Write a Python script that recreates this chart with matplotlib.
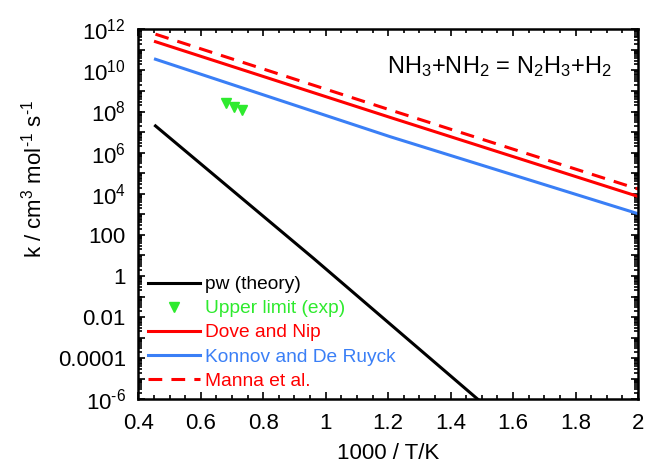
import numpy as np
import matplotlib
matplotlib.use("Agg")
import matplotlib.pyplot as plt
from matplotlib.ticker import FixedLocator, FixedFormatter, LogLocator, MultipleLocator, NullFormatter

plt.rcParams["font.family"] = ["Liberation Sans", "DejaVu Sans"]
plt.rcParams["mathtext.fontset"] = "custom"
plt.rcParams["mathtext.rm"] = "Liberation Sans"

# rate constants vs 1000/T
pw_x = [0.455, 0.961, 1.50]
pw_k = [2.0e7, 7.2, 6.8e-7]

exp_x = [0.682, 0.707, 0.733]
exp_k = [2.6e8, 1.7e8, 1.15e8]

dove_x = [0.455, 1.206, 2.0]
dove_k = [2.5e11, 5.2e7, 7.4e3]

konnov_x = [0.455, 1.206, 2.0]
konnov_k = [3.5e10, 6.0e6, 1.07e3]

manna_x = [0.455, 1.206, 2.0]
manna_k = [5.8e11, 1.2e8, 1.7e4]

ytick_vals = [1e12, 1e10, 1e8, 1e6, 1e4, 100, 1, 0.01, 0.0001, 1e-6]
ytick_labels = [r"$\mathregular{10^{12}}$", r"$\mathregular{10^{10}}$", r"$\mathregular{10^{8}}$",
                r"$\mathregular{10^{6}}$", r"$\mathregular{10^{4}}$", "100", "1", "0.01",
                "0.0001", r"$\mathregular{10^{\text{-}6}}$"]

RED = "#ff0000"
BLUE = "#3a7ff6"
GREEN = "#2eea2e"

fig = plt.figure(figsize=(6.49, 4.69), dpi=100)
ax = fig.add_axes([0.2131, 0.1486, 0.7700, 0.7889])

ax.plot(pw_x, pw_k, "-", color="black", lw=2.2, label="pw (theory)")
ax.plot(exp_x, exp_k, "v", color=GREEN, ms=7, ls="none", label="Upper limit (exp)")
ax.plot(dove_x, dove_k, "-", color=RED, lw=2.2, label="Dove and Nip")
ax.plot(konnov_x, konnov_k, "-", color=BLUE, lw=2.2, label="Konnov and De Ruyck")
ax.plot(manna_x, manna_k, "--", color=RED, lw=2.2, dashes=(4.5, 3), label="Manna et al.")

ax.set_yscale("log")
ax.set_xlim(0.4, 2.0)
ax.set_ylim(1e-6, 1e12)

ax.xaxis.set_major_locator(MultipleLocator(0.2))
ax.xaxis.set_minor_locator(MultipleLocator(0.05))
ax.xaxis.set_major_formatter(matplotlib.ticker.FuncFormatter(lambda v, p: "%g" % v))
ax.yaxis.set_major_locator(FixedLocator([10.0 ** e for e in range(-6, 13)]))
labels = []
for e in range(-6, 13):
    v = 10.0 ** e
    labels.append(ytick_labels[ytick_vals.index(v)] if v in ytick_vals else "")
ax.yaxis.set_major_formatter(FixedFormatter(labels))
ax.yaxis.set_minor_locator(LogLocator(base=10, subs=np.arange(2, 10), numticks=100))
ax.yaxis.set_minor_formatter(NullFormatter())

ax.tick_params(which="both", direction="in", top=True, right=True, width=1.2)
ax.tick_params(which="major", length=5)
ax.tick_params(which="minor", length=3)
ax.tick_params(axis="x", labelsize=16, pad=10)
ax.tick_params(axis="y", labelsize=16, pad=9)
for s in ax.spines.values():
    s.set_linewidth(1.8)

ax.set_xlabel("1000 / T/K", fontsize=16, labelpad=6)
ax.set_ylabel(r"k / cm$\mathregular{^3}$ mol$\mathregular{^{\text{-}1}}$ s$\mathregular{^{\text{-}1}}$",
              fontsize=16)
ax.yaxis.set_label_coords(-0.183, 0.595)

ax.text(0.722, 0.900, r"$\mathregular{\text{NH}_3\text{+NH}_2\text{ = N}_2\text{H}_3\text{+H}_2}$",
        transform=ax.transAxes, ha="center", va="center", fontsize=17)

leg = ax.legend(loc="lower left", frameon=False, fontsize=13.8, handlelength=2.7,
                handletextpad=0.3, labelspacing=0.35, borderaxespad=0.3, borderpad=0.2)
for t, c in zip(leg.get_texts(), ["black", GREEN, RED, BLUE, RED]):
    t.set_color(c)

fig.savefig("out.png", dpi=100)
